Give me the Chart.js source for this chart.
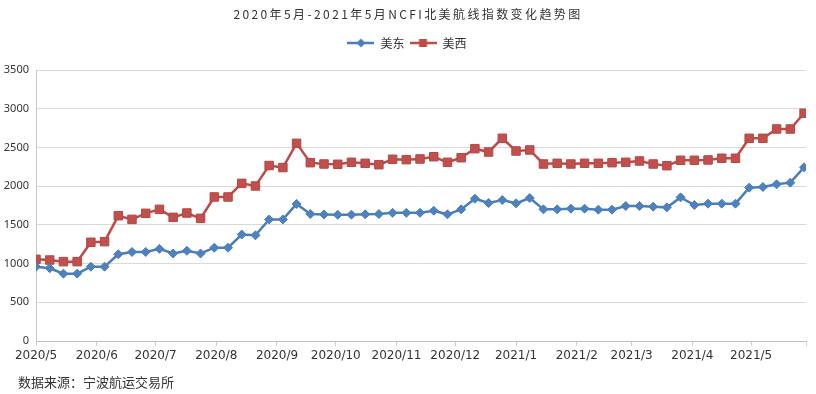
<!DOCTYPE html>
<html lang="zh">
<head>
    <meta charset="UTF-8">
    <title>NCFI北美航线指数变化趋势图</title>
    <script src="https://cdn.jsdelivr.net/npm/chart.js"></script>
    <style>
        html, body {
            margin: 0;
            padding: 0;
            background: #fff;
        }
        .wrap {
            position: relative;
            width: 816px;
            height: 394px;
        }
        .title {
            position: absolute;
            top: 5px;
            left: 0;
            width: 816px;
            text-align: center;
            font: 12px "Noto Sans CJK SC", sans-serif;
            letter-spacing: 2.4px;
            color: #333;
        }
        .source {
            position: absolute;
            left: 18px;
            top: 372px;
            font: 13px "Noto Sans CJK SC", sans-serif;
            color: #333;
        }
    </style>
</head>
<body>
<div class="wrap">
    <canvas id="chart" width="816" height="394"></canvas>
    <div class="title">2020年5月-2021年5月NCFI北美航线指数变化趋势图</div>
    <div class="source">数据来源：宁波航运交易所</div>
</div>
<script>
    // weekly dates
    const dates = [
        '2020-05-01', '2020-05-08', '2020-05-15', '2020-05-22', '2020-05-29',
        '2020-06-05', '2020-06-12', '2020-06-19', '2020-06-26',
        '2020-07-03', '2020-07-10', '2020-07-17', '2020-07-24', '2020-07-31',
        '2020-08-07', '2020-08-14', '2020-08-21', '2020-08-28',
        '2020-09-04', '2020-09-11', '2020-09-18', '2020-09-25',
        '2020-10-02', '2020-10-09', '2020-10-16', '2020-10-23', '2020-10-30',
        '2020-11-06', '2020-11-13', '2020-11-20', '2020-11-27',
        '2020-12-04', '2020-12-11', '2020-12-18', '2020-12-25',
        '2021-01-01', '2021-01-08', '2021-01-15', '2021-01-22', '2021-01-29',
        '2021-02-05', '2021-02-12', '2021-02-19', '2021-02-26',
        '2021-03-05', '2021-03-12', '2021-03-19', '2021-03-26',
        '2021-04-02', '2021-04-09', '2021-04-16', '2021-04-23', '2021-04-30',
        '2021-05-07', '2021-05-14', '2021-05-21', '2021-05-28'
    ];

    const usEast = [
        960, 940, 870, 870, 960, 960, 1120, 1150, 1150, 1190,
        1130, 1165, 1130, 1205, 1205, 1375, 1365, 1570, 1570, 1770,
        1640, 1635, 1630, 1632, 1636, 1640, 1655, 1655, 1655, 1683,
        1636, 1700, 1838, 1782, 1821, 1778, 1847, 1700, 1700, 1709,
        1709, 1696, 1696, 1743, 1743, 1735, 1726, 1855, 1756, 1774,
        1774, 1774, 1980, 1989, 2024, 2045, 2243
    ];

    const usWest = [
        1055, 1046, 1025, 1025, 1275, 1283, 1618, 1571, 1649, 1700,
        1597, 1653, 1584, 1860, 1860, 2036, 2002, 2266, 2240, 2553,
        2303, 2286, 2282, 2308, 2295, 2277, 2347, 2342, 2351, 2380,
        2308, 2367, 2484, 2441, 2618, 2454, 2467, 2286, 2295, 2286,
        2295, 2295, 2303, 2308, 2325, 2286, 2264, 2334, 2334, 2338,
        2360, 2360, 2618, 2618, 2738, 2738, 2941
    ];

    const monthStarts = [
        '2020-05-01', '2020-06-01', '2020-07-01', '2020-08-01', '2020-09-01',
        '2020-10-01', '2020-11-01', '2020-12-01', '2021-01-01', '2021-02-01',
        '2021-03-01', '2021-04-01', '2021-05-01'
    ];
    const monthLabels = [
        '2020/5', '2020/6', '2020/7', '2020/8', '2020/9', '2020/10', '2020/11',
        '2020/12', '2021/1', '2021/2', '2021/3', '2021/4', '2021/5'
    ];
    const yTicks = [0, 500, 1000, 1500, 2000, 2500, 3000, 3500];

    const DAY = 86400000;
    const t0 = Date.parse(dates[0]);
    const dayOf = d => Math.round((Date.parse(d) - t0) / DAY);
    const xMax = 393;
    const tickDays = monthStarts.map(dayOf).concat([xMax]);

    const blue = '#4A7EBB';
    const red = '#BE4B48';

    // legend icon: short line with the marker in the middle
    function legendIcon(color, shape) {
        const c = document.createElement('canvas');
        c.width = 27;
        c.height = 12;
        const g = c.getContext('2d');
        g.strokeStyle = color;
        g.lineWidth = 2.5;
        g.beginPath();
        g.moveTo(0, 6);
        g.lineTo(27, 6);
        g.stroke();
        g.fillStyle = color;
        g.beginPath();
        if (shape === 'diamond') {
            g.moveTo(13.5, 1.5);
            g.lineTo(18, 6);
            g.lineTo(13.5, 10.5);
            g.lineTo(9, 6);
            g.closePath();
        } else {
            g.rect(9.5, 2, 8, 8);
        }
        g.fill();
        return c;
    }

    const toPoints = vals => vals.map((v, i) => ({ x: dayOf(dates[i]), y: v }));

    // extra room under the legend, and nudge it a bit to the right
    const legendSpacer = {
        id: 'legendSpacer',
        beforeInit(chart) {
            const fit = chart.legend.fit;
            chart.legend.fit = function () {
                fit.bind(chart.legend)();
                this.height += 11;
            };
        },
        afterLayout(chart) {
            chart.legend.left += 8;
        }
    };

    new Chart(document.getElementById('chart'), {
        type: 'line',
        data: {
            datasets: [{
                label: '美东',
                data: toPoints(usEast),
                borderColor: blue,
                backgroundColor: blue,
                borderWidth: 2.5,
                pointStyle: 'rectRot',
                pointRadius: 4.5,
                pointBackgroundColor: '#4F81BD',
                pointBorderColor: blue,
                pointBorderWidth: 1,
                tension: 0
            }, {
                label: '美西',
                data: toPoints(usWest),
                borderColor: red,
                backgroundColor: red,
                borderWidth: 2.5,
                pointStyle: 'rect',
                pointRadius: 6,
                pointBackgroundColor: '#C0504D',
                pointBorderColor: '#B64744',
                pointBorderWidth: 1,
                tension: 0
            }]
        },
        options: {
            responsive: false,
            animation: false,
            layout: {
                padding: { top: 32, right: 10, left: 0, bottom: 0 }
            },
            plugins: {
                title: { display: false },
                tooltip: { enabled: false },
                legend: {
                    position: 'top',
                    labels: {
                        usePointStyle: true,
                        pointStyleWidth: 27,
                        padding: 5,
                        color: '#333',
                        font: { family: '"Noto Sans CJK SC", sans-serif', size: 12 },
                        generateLabels(chart) {
                            return chart.data.datasets.map((ds, i) => ({
                                text: ds.label,
                                pointStyle: legendIcon(ds.borderColor, i === 0 ? 'diamond' : 'square'),
                                fillStyle: ds.borderColor,
                                strokeStyle: ds.borderColor,
                                lineWidth: 0,
                                fontColor: '#333',
                                datasetIndex: i
                            }));
                        }
                    }
                }
            },
            scales: {
                x: {
                    type: 'linear',
                    min: 0,
                    max: xMax,
                    afterFit(scale) { scale.height = 53; },
                    afterBuildTicks(scale) {
                        scale.ticks = tickDays.map(v => ({ value: v }));
                    },
                    grid: {
                        drawOnChartArea: false,
                        drawTicks: true,
                        tickLength: 5,
                        color: '#d0d0d0'
                    },
                    border: { display: true, color: '#bfbfbf' },
                    ticks: {
                        autoSkip: false,
                        maxRotation: 0,
                        padding: 3,
                        color: '#333',
                        font: { family: '"DejaVu Sans", sans-serif', size: 12 },
                        callback(value) {
                            const i = tickDays.indexOf(value);
                            return i >= 0 && i < monthLabels.length ? monthLabels[i] : '';
                        }
                    }
                },
                y: {
                    min: 0,
                    max: 3500,
                    afterFit(scale) { scale.width = 36; },
                    afterBuildTicks(scale) {
                        scale.ticks = yTicks.map(v => ({ value: v }));
                    },
                    grid: {
                        color: '#d9d9d9',
                        drawTicks: false
                    },
                    border: { display: true, color: '#c8c8c8' },
                    ticks: {
                        padding: 7,
                        color: '#333',
                        font: { family: '"Noto Sans", sans-serif', size: 11 },
                        callback: value => String(value)
                    }
                }
            }
        },
        plugins: [legendSpacer]
    });
</script>
</body>
</html>
